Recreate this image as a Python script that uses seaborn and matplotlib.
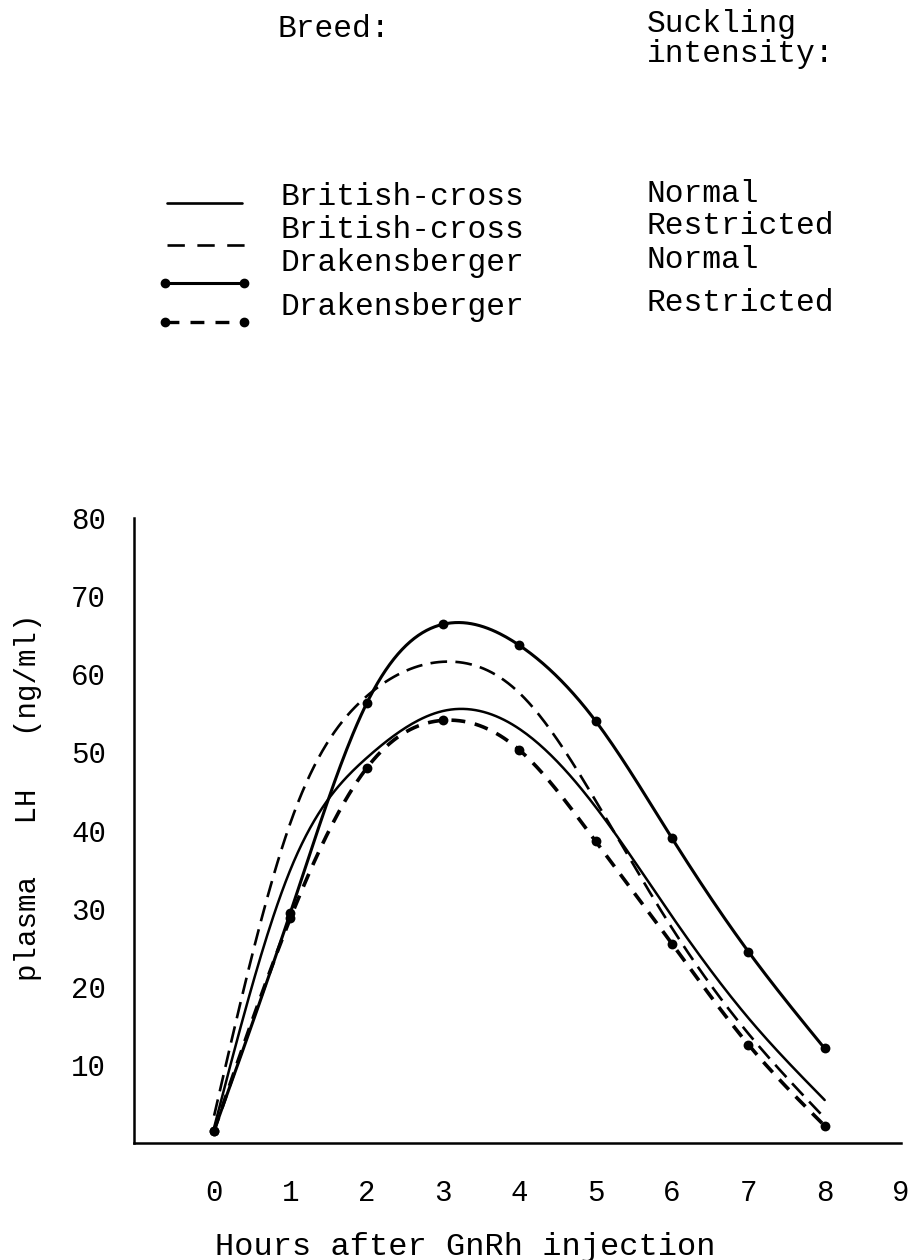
import numpy as np
import pandas as pd
import matplotlib
matplotlib.use("Agg")
import matplotlib.pyplot as plt
import seaborn as sns
from matplotlib.lines import Line2D

# ---------------- data ----------------
hours = [0, 1, 2, 3, 4, 5, 6, 7, 8]
bc_normal = [2.0, 35.0, 49.3, 55.3, 53.0, 43.0, 29.0, 16.0, 5.5]
bc_restricted = [3.5, 41.0, 57.2, 61.6, 57.6, 43.8, 27.5, 14.0, 3.2]
dk_normal = [1.6, 29.5, 56.3, 66.4, 63.7, 54.0, 39.0, 24.5, 12.1]
dk_restricted = [1.6, 28.8, 48.0, 54.1, 50.3, 38.6, 25.5, 12.6, 2.2]

breeds = ["British-cross", "British-cross", "Drakensberger", "Drakensberger"]
suckling = ["Normal", "Restricted", "Normal", "Restricted"]
x_ticks = [0, 1, 2, 3, 4, 5, 6, 7, 8, 9]
y_ticks = [10, 20, 30, 40, 50, 60, 70, 80]


def natural_spline(x, y, n=300):
    x = np.asarray(x, float)
    y = np.asarray(y, float)
    N = len(x)
    h = np.diff(x)
    A = np.zeros((N, N))
    r = np.zeros(N)
    A[0, 0] = A[-1, -1] = 1.0
    for i in range(1, N - 1):
        A[i, i - 1] = h[i - 1]
        A[i, i] = 2 * (h[i - 1] + h[i])
        A[i, i + 1] = h[i]
        r[i] = 6 * ((y[i + 1] - y[i]) / h[i] - (y[i] - y[i - 1]) / h[i - 1])
    M = np.linalg.solve(A, r)
    xs = np.linspace(x[0], x[-1], n)
    idx = np.clip(np.searchsorted(x, xs) - 1, 0, N - 2)
    x0, x1 = x[idx], x[idx + 1]
    hh = x1 - x0
    t0, t1 = x1 - xs, xs - x0
    ys = (M[idx] * t0 ** 3 / (6 * hh) + M[idx + 1] * t1 ** 3 / (6 * hh)
          + (y[idx] / hh - M[idx] * hh / 6) * t0
          + (y[idx + 1] / hh - M[idx + 1] * hh / 6) * t1)
    return xs, ys


sns.set_style("white")
plt.rcParams["font.family"] = ["Liberation Mono", "DejaVu Sans Mono"]
plt.rcParams["lines.scale_dashes"] = False
plt.rcParams["text.color"] = "black"
plt.rcParams["axes.labelcolor"] = "black"
plt.rcParams["xtick.color"] = "black"
plt.rcParams["ytick.color"] = "black"

W, H = 912, 1260
fig = plt.figure(figsize=(W / 100, H / 100), dpi=100)
ax_l, ax_r, ax_b, ax_t = 134, 901, 1143, 518
ax = fig.add_axes([ax_l / W, 1 - ax_b / H, (ax_r - ax_l) / W, (ax_b - ax_t) / H])

styles = [
    dict(y=bc_normal, lw=1.8, ls="-", dots=False),
    dict(y=bc_restricted, lw=1.9, ls=(0, (12, 6)), dots=False),
    dict(y=dk_normal, lw=2.2, ls="-", dots=True),
    dict(y=dk_restricted, lw=2.6, ls=(0, (10, 7)), dots=True),
]

for st in styles:
    xs, ys = natural_spline(hours, st["y"])
    sns.lineplot(x=xs, y=ys, ax=ax, color="black", lw=st["lw"],
                 linestyle=st["ls"], estimator=None, sort=False)
    if st["dots"]:
        sns.scatterplot(x=hours, y=st["y"], ax=ax, color="black", s=50,
                        linewidth=0, zorder=4)

ax.set_xlim(-(214 - ax_l) / 76.2, 9)
ax.set_ylim(0, 80)
ax.set_xticks(x_ticks)
ax.set_xticklabels([str(v) for v in x_ticks])
ax.set_yticks(y_ticks)
ax.set_yticklabels([str(v) for v in y_ticks])
ax.xaxis.get_major_ticks()[0].tick1line.set_visible(False)

for s in ["top", "right"]:
    ax.spines[s].set_visible(False)
for s in ["left", "bottom"]:
    ax.spines[s].set_linewidth(1.8)
    ax.spines[s].set_color("black")

ax.tick_params(axis="both", direction="in", length=10, width=1.6,
               colors="black", labelsize=21)
ax.tick_params(axis="x", pad=26)
ax.tick_params(axis="y", pad=20)

ax.set_xlabel("Hours after GnRh injection", fontsize=23, color="black")
ax.xaxis.set_label_coords((465 - ax_l) / (ax_r - ax_l), -(1247 - ax_b) / (ax_b - ax_t))
ax.xaxis.label.set_va("center")
ax.set_ylabel("plasma   LH   (ng/ml)", fontsize=21, color="black")
ax.yaxis.set_label_coords(-(ax_l - 28) / (ax_r - ax_l), (ax_b - 797) / (ax_b - ax_t))
ax.yaxis.label.set_va("center")

# ---------------- custom legend ----------------
def fx(px):
    return px / W


def fy(py):
    return 1 - py / H


fs = 22.5
fig.text(fx(278), fy(37), "Breed:", fontsize=fs, va="baseline", ha="left")
fig.text(fx(647), fy(32), "Suckling", fontsize=fs, va="baseline", ha="left")
fig.text(fx(647), fy(62), "intensity:", fontsize=fs, va="baseline", ha="left")

row_base_1 = [205, 238, 271, 315]
row_base_2 = [202, 234, 268, 311]
for b, s, y1, y2 in zip(breeds, suckling, row_base_1, row_base_2):
    fig.text(fx(281), fy(y1), b, fontsize=fs, va="baseline", ha="left")
    fig.text(fx(647), fy(y2), s, fontsize=fs, va="baseline", ha="left")

sample_y = [203, 245, 283, 322]
sample_specs = [
    (167, 242, "-", 1.9, False),
    (167, 245, (0, (12.5, 9)), 1.9, False),
    (165, 244, "-", 2.2, True),
    (165, 244, (0, (10, 8)), 2.4, True),
]
for yy, (x0, x1, ls, lw, dots) in zip(sample_y, sample_specs):
    fig.add_artist(Line2D([fx(x0), fx(x1)], [fy(yy), fy(yy)], transform=fig.transFigure,
                          color="black", lw=lw, linestyle=ls))
    if dots:
        fig.add_artist(Line2D([fx(x0), fx(x1)], [fy(yy), fy(yy)], transform=fig.transFigure,
                              color="black", lw=0, marker="o", markersize=6))

fig.savefig("out.png", dpi=100, facecolor="white")
